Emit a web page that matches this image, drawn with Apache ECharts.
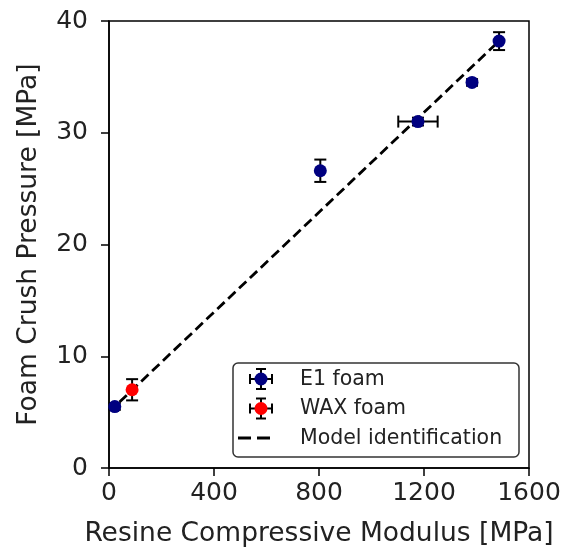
<!DOCTYPE html>
<html>
<head>
<meta charset="utf-8">
<script src="https://cdn.jsdelivr.net/npm/echarts@6/dist/echarts.min.js"></script>
<style>
  html, body { margin: 0; padding: 0; background: #fff; }
  #chart { width: 573px; height: 553px; }
</style>
</head>
<body>
<div id="chart"></div>
<script>
// Resin compressive modulus [MPa] vs foam crush pressure [MPa]
const e1Modulus   = [22, 805, 1177, 1383, 1486];
const e1Pressure  = [5.5, 26.6, 31.0, 34.5, 38.2];
const e1ModErr    = [0, 0, 75, 0, 0];
const e1PresErr   = [0.3, 1.0, 0.35, 0.3, 0.8];

const waxModulus  = [88];
const waxPressure = [7.0];
const waxModErr   = [0];
const waxPresErr  = [0.95];

// Linear model endpoints
const modelModulus  = [40, 1490];
const modelPressure = [5.9, 38.3];

const xTicks = [0, 400, 800, 1200, 1600];
const yTicks = [0, 10, 20, 30, 40];

const FONT = 'DejaVu Sans';
const TXT = '#222';

function zip(a, b) { return a.map((v, i) => [v, b[i]]); }
function errRows(x, y, ex, ey) { return x.map((v, i) => [v, y[i], ex[i], ey[i]]); }

function renderErr(params, api) {
  const x = api.value(0), y = api.value(1), ex = api.value(2), ey = api.value(3);
  const cap = 6;
  const style = { stroke: '#000', lineWidth: 2 };
  const kids = [];
  if (ey > 0) {
    const a = api.coord([x, y - ey]), b = api.coord([x, y + ey]);
    kids.push({ type: 'line', shape: { x1: a[0], y1: a[1], x2: b[0], y2: b[1] }, style });
    kids.push({ type: 'line', shape: { x1: a[0] - cap, y1: a[1], x2: a[0] + cap, y2: a[1] }, style });
    kids.push({ type: 'line', shape: { x1: b[0] - cap, y1: b[1], x2: b[0] + cap, y2: b[1] }, style });
  }
  if (ex > 0) {
    const a = api.coord([x - ex, y]), b = api.coord([x + ex, y]);
    kids.push({ type: 'line', shape: { x1: a[0], y1: a[1], x2: b[0], y2: b[1] }, style });
    kids.push({ type: 'line', shape: { x1: a[0], y1: a[1] - cap, x2: a[0], y2: a[1] + cap }, style });
    kids.push({ type: 'line', shape: { x1: b[0], y1: b[1] - cap, x2: b[0], y2: b[1] + cap }, style });
  }
  return { type: 'group', children: kids };
}

// Legend drawn as graphic elements (errorbar glyphs need black bars with coloured markers)
const LZ = 20;
function errGlyph(cx, cy, color) {
  const s = { stroke: '#000', lineWidth: 2 };
  const seg = (x1, y1, x2, y2) => ({ type: 'line', z: LZ, shape: { x1, y1, x2, y2 }, style: s });
  return [
    seg(cx - 11, cy, cx + 11, cy),
    seg(cx - 11, cy - 5, cx - 11, cy + 5),
    seg(cx + 11, cy - 5, cx + 11, cy + 5),
    seg(cx, cy - 10, cx, cy + 10),
    seg(cx - 5, cy - 10, cx + 5, cy - 10),
    seg(cx - 5, cy + 10, cx + 5, cy + 10),
    { type: 'circle', z: LZ + 1, shape: { cx, cy, r: 6.5 }, style: { fill: color } }
  ];
}

const legendText = (y, t) => ({
  type: 'text', z: LZ, left: 300, top: y - 10,
  style: { text: t, font: '20.5px "' + FONT + '"', fill: TXT }
});

const chart = echarts.init(document.getElementById('chart'), null, { renderer: 'canvas' });
chart.setOption({
  animation: false,
  backgroundColor: '#fff',
  grid: {
    left: 109, right: 44, top: 21, bottom: 84,
    show: true, borderColor: '#000', borderWidth: 1.5, backgroundColor: 'transparent'
  },
  xAxis: {
    type: 'value', min: 0, max: 1600, interval: 400,
    name: 'Resine Compressive Modulus [MPa]',
    nameLocation: 'middle', nameGap: 53,
    nameTextStyle: { fontFamily: FONT, fontSize: 26.5, color: TXT },
    axisLine: { show: true, lineStyle: { color: '#000', width: 1.5 } },
    axisTick: { show: true, inside: false, length: 8, lineStyle: { color: '#000', width: 1.5 } },
    axisLabel: {
      fontFamily: FONT, fontSize: 25, color: TXT, margin: 13,
      formatter: v => xTicks.includes(v) ? String(v) : ''
    },
    splitLine: { show: false }
  },
  yAxis: {
    type: 'value', min: 0, max: 40, interval: 10,
    name: 'Foam Crush Pressure [MPa]',
    nameLocation: 'middle', nameGap: 66,
    nameTextStyle: { fontFamily: FONT, fontSize: 26.5, color: TXT },
    axisLine: { show: true, lineStyle: { color: '#000', width: 1.5 } },
    axisTick: { show: true, inside: false, length: 8, lineStyle: { color: '#000', width: 1.5 } },
    axisLabel: {
      fontFamily: FONT, fontSize: 25, color: TXT, margin: 21,
      formatter: v => yTicks.includes(v) ? String(v) : ''
    },
    splitLine: { show: false }
  },
  series: [
    {
      name: 'Model identification', type: 'line', z: 2,
      data: zip(modelModulus, modelPressure),
      showSymbol: false, symbol: 'none',
      lineStyle: { color: '#000', width: 2.8, type: [10, 5] }
    },
    {
      name: 'E1 err', type: 'custom', z: 3,
      renderItem: renderErr,
      data: errRows(e1Modulus, e1Pressure, e1ModErr, e1PresErr)
    },
    {
      name: 'WAX err', type: 'custom', z: 3,
      renderItem: renderErr,
      data: errRows(waxModulus, waxPressure, waxModErr, waxPresErr)
    },
    {
      name: 'E1 foam', type: 'scatter', z: 4,
      data: zip(e1Modulus, e1Pressure),
      symbol: 'circle', symbolSize: 13,
      itemStyle: { color: '#000080', opacity: 1 }
    },
    {
      name: 'WAX foam', type: 'scatter', z: 4,
      data: zip(waxModulus, waxPressure),
      symbol: 'circle', symbolSize: 13,
      itemStyle: { color: '#ff0000', opacity: 1 }
    }
  ],
  graphic: [
    {
      type: 'rect', z: LZ - 1,
      shape: { x: 233, y: 363, width: 286, height: 94, r: 5 },
      style: { fill: 'rgba(255,255,255,0.85)', stroke: '#333', lineWidth: 1.5 }
    },
    ...errGlyph(261, 379, '#000080'),
    ...errGlyph(261, 408.5, '#ff0000'),
    {
      type: 'line', z: LZ,
      shape: { x1: 238, y1: 438, x2: 275, y2: 438 },
      style: { stroke: '#000', lineWidth: 2.8, lineDash: [13, 6] }
    },
    legendText(379, 'E1 foam'),
    legendText(408.5, 'WAX foam'),
    legendText(438, 'Model identification')
  ]
});
</script>
</body>
</html>
